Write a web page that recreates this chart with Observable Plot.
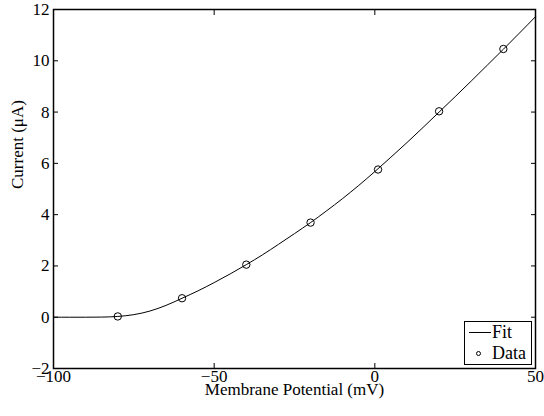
<!DOCTYPE html>
<html>
<head>
<meta charset="utf-8">
<script src="https://cdn.jsdelivr.net/npm/d3@7"></script>
<script src="https://cdn.jsdelivr.net/npm/@observablehq/plot@0.6"></script>
<style>
  html, body { margin: 0; padding: 0; background: #fff; }
  #wrap { position: relative; width: 544px; height: 416px; font-family: "Liberation Serif", "Times New Roman", serif; color: #000; }
  #wrap svg, #wrap svg text { font-family: "Liberation Serif", "Times New Roman", serif !important; }
  #wrap svg { font-size: 17px !important; }
  #legend { position: absolute; left: 464px; top: 321px; width: 68px; height: 44px; box-sizing: border-box;
            border: 1.5px solid #000; background: #fff; font-size: 18px; line-height: 18px; }
  #legend .lbl { position: absolute; left: 27px; white-space: nowrap; }
  #legend .ln { position: absolute; left: 4px; top: 9.5px; width: 22px; border-top: 1px solid #000; }
  #legend .mk { position: absolute; left: 11px; top: 28.5px; width: 5px; height: 5px; box-sizing: border-box;
                border: 1px solid #000; border-radius: 50%; }
</style>
</head>
<body>
<div id="wrap"></div>
<script>
// ---- data ----
const xTicks = [-100, -50, 0, 50];
const yTicks = [-2, 0, 2, 4, 6, 8, 10, 12];
const xLabel = "Membrane Potential (mV)";
const yLabel = "Current (μA)";
const legendNames = ["Fit", "Data"];

const dataV = [-80, -60, -40, -20, 1, 20, 40];
const dataI = [0.03, 0.74, 2.05, 3.69, 5.76, 8.03, 10.46];

const fitV = [-100, -95, -90, -85, -80, -75, -70, -65, -60, -55, -50, -45, -40, -35, -30, -25, -20, -15, -10, -5, 0, 5, 10, 15, 20, 25, 30, 35, 40, 45, 50];
const fitI = [0, 0, 0, 0.005, 0.03, 0.1, 0.24, 0.46, 0.74, 1.03, 1.35, 1.69, 2.05, 2.43, 2.84, 3.26, 3.69, 4.15, 4.63, 5.14, 5.68, 6.24, 6.81, 7.4, 8.0, 8.6, 9.21, 9.83, 10.45, 11.08, 11.72];

const dataRows = dataV.map((v, i) => ({v, i: dataI[i]}));
const fitRows = fitV.map((v, i) => ({v, i: fitI[i]}));

const font = '"Liberation Serif", "Times New Roman", serif';
const blank = () => "";

const chart = Plot.plot({
  width: 544,
  height: 416,
  marginTop: 9,
  marginRight: 9,
  marginBottom: 48,
  marginLeft: 53,
  style: { fontFamily: font, fontSize: "17px", color: "#000", background: "#fff", overflow: "visible" },
  x: { domain: [-100, 50] },
  y: { domain: [-2, 12] },
  marks: [
    // tick labels
    Plot.axisX(xTicks, { anchor: "bottom", tickSize: 0, tickPadding: 1, fontSize: 17, label: null }),
    Plot.axisY(yTicks, { anchor: "left", tickSize: 0, tickPadding: 4, fontSize: 17, label: null }),
    // inward tick marks on all four sides
    Plot.axisX(xTicks, { anchor: "bottom", tickSize: 5, dy: -5, tickFormat: blank, label: null }),
    Plot.axisX(xTicks, { anchor: "top", tickSize: 5, dy: 5, tickFormat: blank, label: null }),
    Plot.axisY(yTicks, { anchor: "left", tickSize: 5, dx: 5, tickFormat: blank, label: null }),
    Plot.axisY(yTicks, { anchor: "right", tickSize: 5, dx: -5, tickFormat: blank, label: null }),
    // axis titles
    Plot.text([xLabel], { frameAnchor: "bottom", text: d => d, dy: 26, fontSize: 17 }),
    Plot.text([yLabel], { frameAnchor: "left", text: d => d, dx: -36, rotate: -90, fontSize: 17 }),
    // fit and data
    Plot.line(fitRows, { x: "v", y: "i", stroke: "#000", strokeWidth: 1, curve: "monotone-x" }),
    Plot.dot(dataRows, { x: "v", y: "i", r: 3.7, stroke: "#000", strokeWidth: 1, fill: "none" }),
    Plot.frame({ stroke: "#000", strokeWidth: 1.5 })
  ]
});

const wrap = document.getElementById("wrap");
wrap.appendChild(chart);

// legend (inside the axes, bottom-right)
const legend = document.createElement("div");
legend.id = "legend";
legend.innerHTML =
  '<span class="ln"></span><span class="lbl" style="top:0.5px">' + legendNames[0] + '</span>' +
  '<span class="mk"></span><span class="lbl" style="top:21.5px">' + legendNames[1] + '</span>';
wrap.appendChild(legend);
</script>
</body>
</html>
